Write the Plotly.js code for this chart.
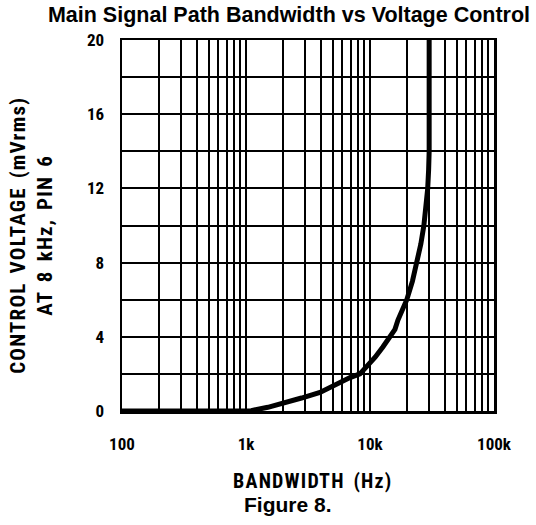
<!DOCTYPE html>
<html>
<head>
<meta charset="utf-8">
<script src="https://cdn.plot.ly/plotly-3.0.1.min.js"></script>
<style>
html,body{margin:0;padding:0;background:#fff;}
#chart{width:536px;height:525px;}
#chart g.annotation[data-index="0"] text,
#chart g.annotation[data-index="1"] text{letter-spacing:1.2px;word-spacing:3px;}
</style>
</head>
<body>
<div id="chart"></div>
<script>
// Data
const bandwidthHz = [100, 300, 700, 1000, 1100, 1500, 2070, 2800, 3950, 5200, 6900, 8300, 9500, 11000, 12700, 14500, 15900, 16800, 19800, 22000, 23900, 25700, 27200, 28400, 29200, 29700, 30000, 30000];
const controlVoltage = [0, 0, 0, 0, 0.02, 0.2, 0.43, 0.7, 1.0, 1.4, 1.8, 2.0, 2.4, 2.9, 3.45, 4.0, 4.4, 4.9, 6.0, 7.0, 8.0, 9.0, 10.0, 11.0, 12.0, 13.0, 14.0, 20];
const xTickVals = [100, 1000, 10000, 100000];
const xTickText = ["100", "1k", "10k", "100k"];
const yTickVals = [0, 2, 4, 6, 8, 10, 12, 14, 16, 18, 20];
const yTickText = ["0", "", "4", "", "8", "", "12", "", "16", "", "20"];

const minorX = [];
[100, 1000, 10000].forEach(d => { for (let k = 2; k <= 9; k++) minorX.push(d * k); });

const condFont = "'Roboto Condensed', 'Liberation Sans', sans-serif";
const arialFont = "'Liberation Sans', Arial, sans-serif";
const axisCommon = {
  showline: true, linecolor: '#000', linewidth: 2.5, mirror: true,
  showgrid: true, gridcolor: '#000', gridwidth: 2,
  zeroline: false, ticks: '',
  tickfont: {family: condFont, size: 17, color: '#000', weight: 'bold'}
};

const trace = {
  x: bandwidthHz, y: controlVoltage, type: 'scatter', mode: 'lines',
  line: {color: '#000', width: 5}, hoverinfo: 'skip'
};

const layout = {
  width: 536, height: 525,
  margin: {l: 122, r: 42, t: 40, b: 114},
  paper_bgcolor: '#fff', plot_bgcolor: '#fff',
  showlegend: false,
  title: {text: 'Main Signal Path Bandwidth vs Voltage Control', xref: 'container', yref: 'container',
    x: 289/536, xanchor: 'center', y: 1 - 14/525, yanchor: 'middle',
    font: {family: arialFont, size: 21.5, color: '#000', weight: 'bold'}},
  xaxis: Object.assign({}, axisCommon, {
    type: 'log', range: [2, 5], tickmode: 'array', tickvals: xTickVals, ticktext: xTickText,
    ticklabelstandoff: 16,
    minor: {tickmode: 'array', tickvals: minorX, showgrid: true, gridcolor: '#000', gridwidth: 2, ticks: ''}
  }),
  yaxis: Object.assign({}, axisCommon, {
    range: [0, 20], tickmode: 'array', tickvals: yTickVals, ticktext: yTickText, ticklabelstandoff: 12
  }),
  annotations: [
    {text: 'CONTROL VOLTAGE (mVrms)<br>AT 8 kHz, PIN 6', textangle: -90, xref: 'paper', yref: 'paper',
      x: (31 - 122) / 372, y: (411 - 236) / 371, xanchor: 'center', yanchor: 'middle', showarrow: false,
      font: {family: condFont, size: 21, color: '#000', weight: 'bold'}},
    {text: 'BANDWIDTH (Hz)', xref: 'paper', yref: 'paper', x: (313 - 122) / 372, y: (411 - 481) / 371,
      xanchor: 'center', yanchor: 'middle', showarrow: false,
      font: {family: condFont, size: 20, color: '#000', weight: 'bold'}},
    {text: 'Figure 8.', xref: 'paper', yref: 'paper', x: (288 - 122) / 372, y: (411 - 504) / 371,
      xanchor: 'center', yanchor: 'middle', showarrow: false,
      font: {family: arialFont, size: 21, color: '#000', weight: 'bold'}}
  ]
};

Plotly.newPlot('chart', [trace], layout, {displayModeBar: false, staticPlot: true});
</script>
</body>
</html>
